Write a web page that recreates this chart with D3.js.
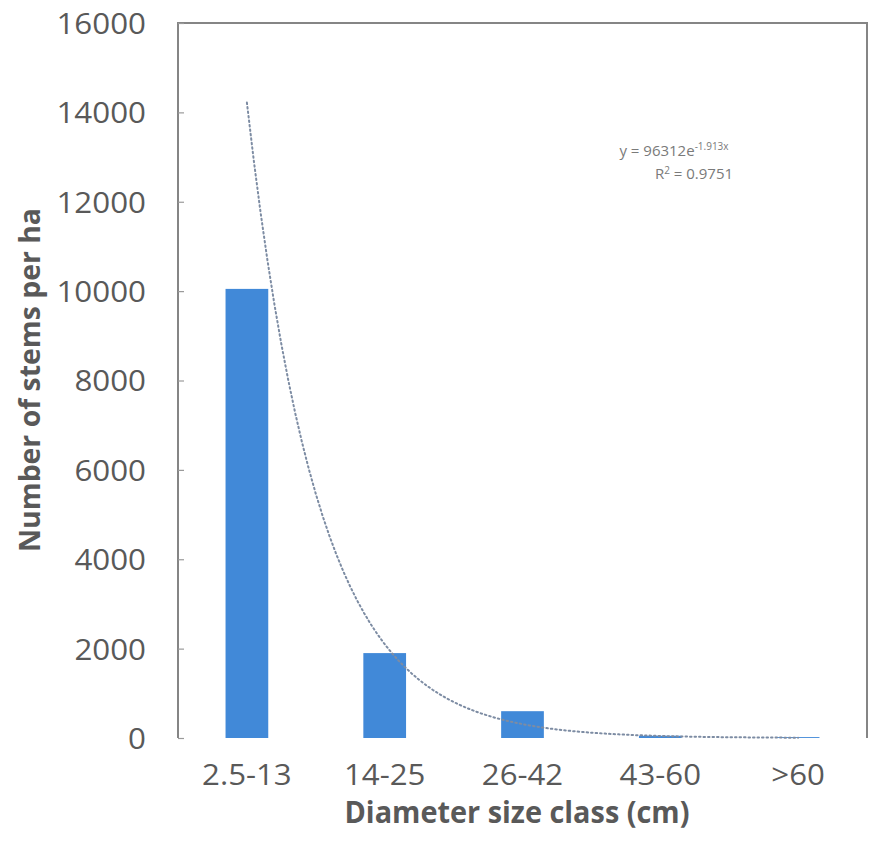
<!DOCTYPE html>
<html>
<head>
<meta charset="utf-8">
<script src="https://cdn.jsdelivr.net/npm/d3@7"></script>
<style>
  html, body { margin: 0; padding: 0; background: #ffffff; }
  svg { display: block; }
</style>
</head>
<body>
<div id="chart"></div>
<script>
// ---- data ----
const categories = ["2.5-13", "14-25", "26-42", "43-60", ">60"];
const stems = [10050, 1900, 600, 50, 20];
const yTicks = [0, 2000, 4000, 6000, 8000, 10000, 12000, 14000, 16000];
const trendA = 96312;
const trendB = -1.913;
const trendLabel = "y = 96312e";
const trendExp = "-1.913x";
const r2Label = "0.9751";
const xTitle = "Diameter size class (cm)";
const yTitle = "Number of stems per ha";

// ---- layout ----
const W = 869, H = 850;
const plot = { left: 178, right: 867, top: 23, bottom: 738 };

const svg = d3.select("#chart").append("svg").attr("width", W).attr("height", H);

const x = d3.scaleBand().domain(categories).range([plot.left, plot.right]).paddingInner(0.69).paddingOuter(0.345);
const y = d3.scaleLinear().domain([0, 16000]).range([plot.bottom, plot.top]);

const textCol = "#595959";

function stretch(sel, k) {
  sel.each(function() {
    const len = this.getComputedTextLength();
    d3.select(this).attr("textLength", len * k).attr("lengthAdjust", "spacingAndGlyphs");
  });
}

// bars
svg.append("g").selectAll("rect").data(stems).join("rect")
  .attr("x", (d, i) => x(categories[i]))
  .attr("width", x.bandwidth())
  .attr("y", d => y(d))
  .attr("height", d => y(0) - y(d))
  .attr("fill", "#4189d8");

// trend line (exponential fit y = a*e^(b*x), x = category index 1..5)
const trendPts = [];
const nSteps = 80;
for (let k = 0; k <= nSteps; k++) {
  const t = 1 + (categories.length - 1) * k / nSteps;
  trendPts.push([t, trendA * Math.exp(trendB * t)]);
}
const xLin = d3.scaleLinear().domain([1, categories.length])
  .range([x(categories[0]) + x.bandwidth() / 2, x(categories[categories.length - 1]) + x.bandwidth() / 2]);
svg.append("path")
  .datum(trendPts)
  .attr("d", d3.line().x(d => xLin(d[0])).y(d => y(d[1])))
  .attr("fill", "none")
  .attr("stroke", "#7d8ca3")
  .attr("stroke-width", 2)
  .attr("stroke-dasharray", "1.5,3")
  .attr("stroke-linecap", "round");

// frame: left axis, top, right
svg.append("path")
  .attr("d", `M${plot.left},${plot.bottom} V${plot.top} H${plot.right} V${plot.bottom}`)
  .attr("stroke", "#858585").attr("stroke-width", 2).attr("fill", "none");

// y axis ticks and labels
const yAxis = d3.axisLeft(y).tickValues(yTicks).tickSize(-6).tickPadding(0).tickFormat(d3.format("d"));
const gy = svg.append("g").attr("transform", `translate(${plot.left},0)`).call(yAxis);
gy.select(".domain").remove();
gy.selectAll(".tick line").attr("stroke", "#9a9a9a").attr("stroke-width", 1.2);
gy.selectAll(".tick text")
  .attr("x", 146 - plot.left)
  .attr("dy", "0.36em")
  .attr("fill", textCol)
  .style("font-family", "'Open Sans', sans-serif")
  .style("font-size", "29px")
  .call(stretch, 1.08);

// x labels
const xAxis = d3.axisBottom(x).tickSize(0).tickPadding(0);
const gx = svg.append("g").attr("transform", `translate(0,${plot.bottom})`).call(xAxis);
gx.select(".domain").remove();
gx.selectAll(".tick text")
  .attr("y", 47)
  .attr("dy", 0)
  .attr("fill", textCol)
  .style("font-family", "'Open Sans', sans-serif")
  .style("font-size", "30px")
  .call(stretch, 1.04);

// axis titles
svg.append("text")
  .attr("x", 517).attr("y", 823)
  .attr("text-anchor", "middle")
  .attr("fill", textCol)
  .style("font-family", "'Open Sans', sans-serif")
  .style("font-weight", "700")
  .style("font-size", "30px")
  .text(xTitle)
  .attr("textLength", 345).attr("lengthAdjust", "spacingAndGlyphs");

svg.append("text")
  .attr("transform", `translate(40,380) rotate(-90)`)
  .attr("text-anchor", "middle")
  .attr("fill", textCol)
  .style("font-family", "'Open Sans', sans-serif")
  .style("font-weight", "700")
  .style("font-size", "29px")
  .text(yTitle)
  .attr("textLength", 344).attr("lengthAdjust", "spacingAndGlyphs");

// equation
const eq = svg.append("text")
  .attr("x", 674).attr("y", 156)
  .attr("text-anchor", "middle")
  .attr("fill", "#7a7a7a")
  .style("font-family", "'Open Sans', sans-serif")
  .style("font-size", "15px");
eq.append("tspan").text(trendLabel);
eq.append("tspan").attr("dy", -6).style("font-size", "10px").text(trendExp);

const r2 = svg.append("text")
  .attr("x", 694).attr("y", 179)
  .attr("text-anchor", "middle")
  .attr("fill", "#7a7a7a")
  .style("font-family", "'Open Sans', sans-serif")
  .style("font-size", "15px");
r2.append("tspan").text("R");
r2.append("tspan").attr("dy", -5).style("font-size", "10px").text("2");
r2.append("tspan").attr("dy", 5).text(" = " + r2Label);
</script>
</body>
</html>
